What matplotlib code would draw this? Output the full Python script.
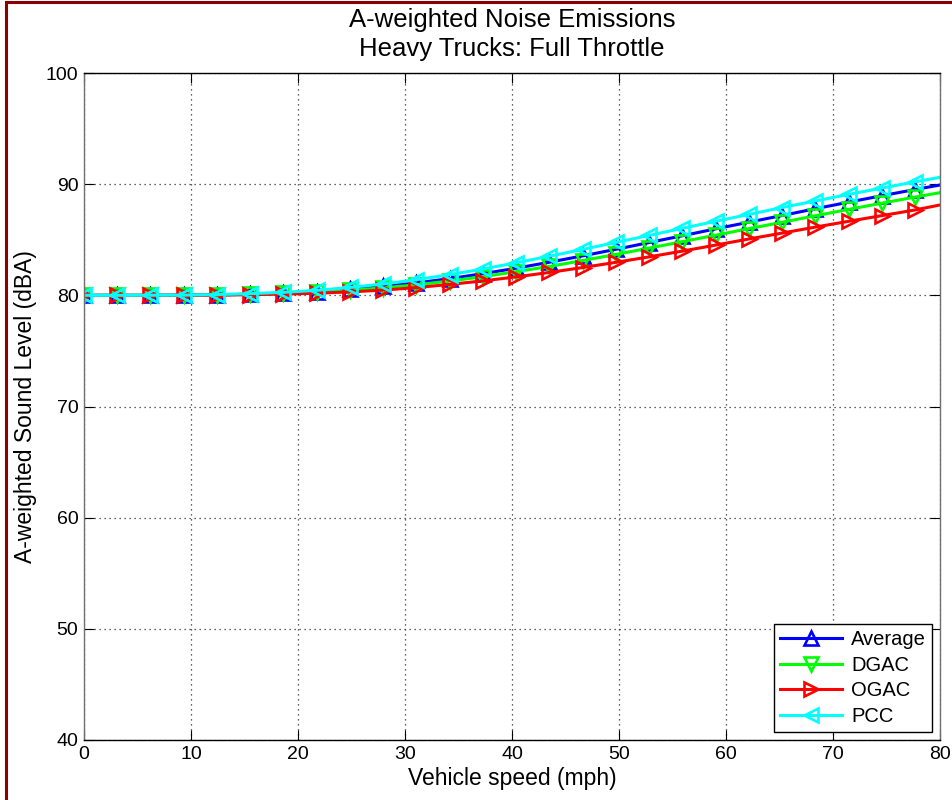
import numpy as np
import matplotlib
matplotlib.use('Agg')
import matplotlib.pyplot as plt
from matplotlib.patches import Rectangle

plt.rcParams['font.family'] = ['Liberation Sans', 'DejaVu Sans']

# speeds: 0..130 km/h in 5 km/h steps, shown in mph
speed_kmh = np.arange(0, 135, 5)
speed_mph = speed_kmh / 1.609344

average = [80.00, 80.00, 80.00, 80.02, 80.05, 80.10, 80.20, 80.34, 80.54, 80.80,
           81.12, 81.50, 81.95, 82.44, 82.98, 83.55, 84.14, 84.75, 85.36, 85.98,
           86.58, 87.18, 87.79, 88.38, 88.96, 89.52, 90.06]
dgac = [80.00, 80.00, 80.00, 80.01, 80.04, 80.09, 80.17, 80.29, 80.45, 80.67,
        80.95, 81.29, 81.68, 82.13, 82.60, 83.13, 83.68, 84.25, 84.83, 85.41,
        86.00, 86.57, 87.16, 87.73, 88.29, 88.84, 89.37]
ogac = [80.00, 80.00, 80.00, 80.01, 80.02, 80.06, 80.11, 80.19, 80.31, 80.47,
        80.70, 80.98, 81.30, 81.66, 82.06, 82.50, 82.97, 83.46, 83.98, 84.52,
        85.07, 85.60, 86.14, 86.66, 87.17, 87.68, 88.28]
pcc = [80.00, 80.00, 80.01, 80.02, 80.07, 80.15, 80.27, 80.45, 80.71, 81.02,
       81.41, 81.86, 82.37, 82.93, 83.52, 84.13, 84.76, 85.39, 86.03, 86.66,
       87.28, 87.90, 88.49, 89.08, 89.65, 90.21, 90.75]

series = [
    ('Average', average, '#0000ff', '^'),
    ('DGAC', dgac, '#00ff00', 'v'),
    ('OGAC', ogac, '#ff0000', '>'),
    ('PCC', pcc, '#00ffff', '<'),
]

fig = plt.figure(figsize=(9.53, 8.0), dpi=100)
ax = fig.add_axes([84 / 953, 1 - 740 / 800, 856 / 953, 667 / 800])

for name, vals, col, mk in series:
    ax.plot(speed_mph, vals, color=col, lw=2.2, marker=mk, markersize=9.5,
            markerfacecolor='none', markeredgecolor=col, markeredgewidth=1.9,
            label=name)

ax.set_xlim(0, 80)
ax.set_ylim(40, 100)
ax.set_xticks(np.arange(0, 81, 10))
ax.set_yticks(np.arange(40, 101, 10))
ax.grid(True, color='#303030', linestyle=(0, (1, 3)), linewidth=0.9)
ax.tick_params(direction='in', length=7, labelsize=14, top=True, right=True,
               colors='black', pad=4)
for side in ['left', 'right']:
    ax.spines[side].set_color('#707070')
for sp in ax.spines.values():
    sp.set_linewidth(1.0)

ax.set_xlabel('Vehicle speed (mph)', fontsize=16.5, labelpad=3)
ax.set_ylabel('A-weighted Sound Level (dBA)', fontsize=16.5, labelpad=6)
ax.set_title('A-weighted Noise Emissions\nHeavy Trucks: Full Throttle',
             fontsize=18.5, linespacing=1.3, pad=12)

leg = ax.legend(loc='lower right', fontsize=14.5, handlelength=3.1,
                fancybox=False, edgecolor='black', framealpha=1,
                borderpad=0.3, labelspacing=0.33, handletextpad=0.45,
                borderaxespad=0, bbox_to_anchor=(0.9907, 0.012))
leg.get_frame().set_linewidth(1.0)

# dark red figure border (cropped on right and bottom)
fig.patches.append(Rectangle((6 / 953, -0.05), 1.2, 1 - 2 / 800 + 0.05,
                             transform=fig.transFigure, fill=False,
                             edgecolor='#8b0000', linewidth=2.2))

fig.savefig('out.png', dpi=100)
